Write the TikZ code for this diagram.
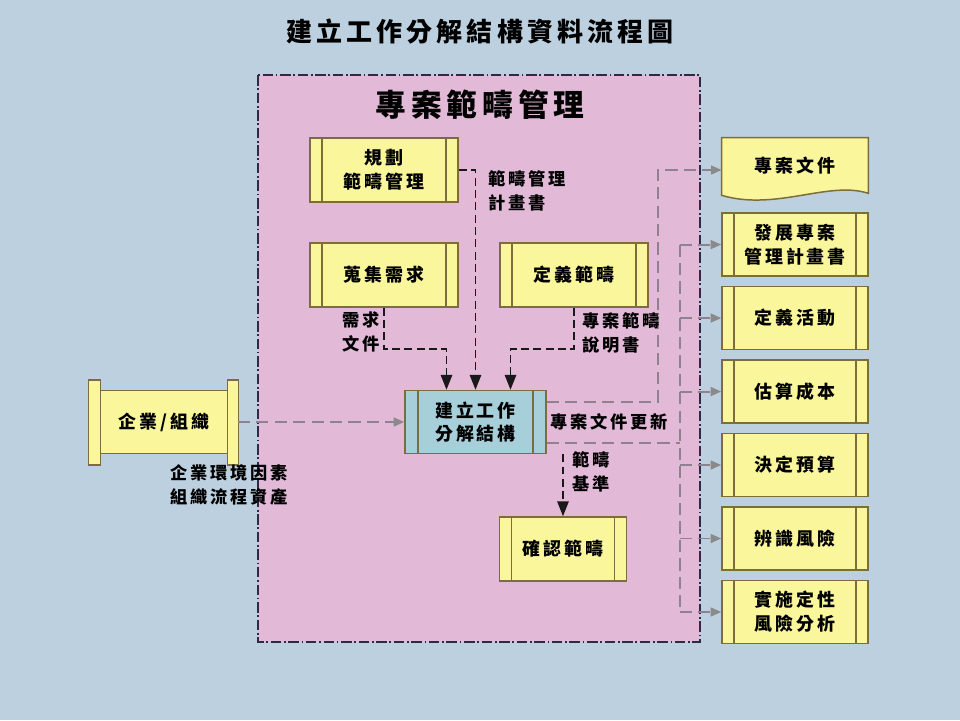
\documentclass[tikz,border=0pt]{standalone}
\usepackage{fontspec}
\setmainfont{Noto Sans CJK TC}[LetterSpace=16]
\usepackage{tikz}
\usetikzlibrary{arrows.meta,positioning,calc,backgrounds}
\definecolor{PageBlue}{HTML}{BDD0DF}
\definecolor{AreaPink}{HTML}{E2BAD8}
\definecolor{AreaEdge}{HTML}{2E2A45}
\definecolor{BoxYellow}{HTML}{FAF69C}
\definecolor{BoxEdge}{HTML}{7D6D3C}
\definecolor{WbsBlue}{HTML}{A6CFDA}
\definecolor{FlowGray}{HTML}{8E8290}
\definecolor{TipGray}{HTML}{8A8A8A}
\tikzset{
  % base box
  FB/.style={rectangle,draw=BoxEdge,fill=BoxYellow,line width=0.85pt,
             minimum width=2.96cm,minimum height=1.28cm,
             text centered,align=center,
             font=\fontsize{10.2}{13.5}\selectfont\bfseries},
  % box with inner side rules
  SB/.style={FB,path picture={
      \draw[BoxEdge,line width=0.7pt]
        ([xshift=#1]path picture bounding box.north west) -- ([xshift=#1]path picture bounding box.south west)
        ([xshift=-#1]path picture bounding box.north east) -- ([xshift=-#1]path picture bounding box.south east);}},
  SB/.default=0.24cm,
  RW/.style={minimum width=2.92cm,minimum height=1.26cm},
  WB/.style={SB=0.26cm,fill=WbsBlue,minimum width=2.82cm,minimum height=1.26cm},
  DOC/.style={rectangle,minimum width=2.92cm,minimum height=1.1cm,
              font=\fontsize{10.2}{13.5}\selectfont\bfseries},
  BAR/.style={draw=BoxEdge,fill=BoxYellow,line width=0.85pt},
  % arrows
  KA/.style={draw=black!90,line width=0.9pt,dash pattern=on 4.5pt off 2.5pt,
             -{Triangle[length=8.5pt,width=6.5pt]}},
  GL/.style={draw=FlowGray,line width=1.1pt,dash pattern=on 7pt off 3.5pt},
  GA/.style={GL,-{Triangle[length=6pt,width=5pt,color=TipGray]}},
  % labels
  LB/.style={font=\fontsize{9.8}{14}\selectfont\bfseries,align=left}
}
\begin{document}
\begin{tikzpicture}[x=0.02cm,y=-0.02cm]
  \useasboundingbox (0,0) rectangle (960,720);
  \begin{scope}[on background layer]
    \fill[PageBlue] (0,0) rectangle (960,720);
    \filldraw[fill=AreaPink,draw=AreaEdge,line width=0.8pt,
      dash pattern=on 6pt off 1.5pt on 1pt off 1.5pt] (258,75) rectangle (700,642);
  \end{scope}

  \node[font=\fontsize{14.8}{18}\selectfont\bfseries] (title) at (480,32) {建立工作分解結構資料流程圖};
  \node[font=\fontsize{17.5}{20}\selectfont\bfseries] (areatitle) at (480,105) {專案範疇管理};

  % scope processes
  \node[SB] (planscope) at (384,170) {規劃\\範疇管理};
  \node[SB] (collect) at (384,275) {蒐集需求};
  \node[SB] (define) at (574,275) {定義範疇};
  \node[WB] (wbs) at (475.5,422) {建立工作\\分解結構};
  \node[SB,minimum width=2.54cm] (verify) at (563,549) {確認範疇};

  % enterprise scroll
  \node[FB,minimum width=2.56cm,minimum height=1.26cm] (org) at (164,422) {企業/組織};
  \draw[BAR] ($(org.north west)+(-11,-10)$) rectangle ($(org.south west)+(1,11)$);
  \draw[BAR] ($(org.north east)+(-1,-10)$) rectangle ($(org.south east)+(10,11)$);

  % outputs
  \node[DOC] (docs) at (795,165.5) {專案文件};
  \begin{scope}[on background layer]
    \draw[BAR] (docs.north west) -- (docs.north east) -- (docs.south east)
      .. controls +(-39,-13) and +(54,16) .. ([yshift=-0.04cm]docs.south west) -- cycle;
  \end{scope}
  \node[SB,RW,below=0.38cm of docs] (devplan) {發展專案\\管理計畫書};
  \node[SB,RW,below=0.18cm of devplan] (defact) {定義活動};
  \node[SB,RW,below=0.18cm of defact] (estcost) {估算成本};
  \node[SB,RW,below=0.18cm of estcost] (budget) {決定預算};
  \node[SB,RW,below=0.18cm of budget] (idrisk) {辨識風險};
  \node[SB,RW,below=0.18cm of idrisk] (qualrisk) {實施定性\\風險分析};

  % inputs to wbs
  \draw[KA] (planscope.east) -| (wbs.north);
  \draw[KA] (collect.south) -- ++(0,41) -| ([xshift=-0.58cm]wbs.north);
  \draw[KA] (define.south) -- ++(0,41) -| ([xshift=0.7cm]wbs.north);
  \draw[KA] (wbs.south -| verify.north) -- (verify.north);
  \draw[GA] ([xshift=0.18cm]org.east) -- (wbs.west);

  % outputs of wbs
  \draw[GA] ([yshift=0.4cm]wbs.east) -- ++(111,0) |- ([yshift=-0.09cm]docs.west);
  \draw[GL] ([yshift=-0.42cm]wbs.east) -- ++(133,0) coordinate (bus);
  \draw[GL] (bus |- devplan.west) -- (bus |- qualrisk.west);
  \foreach \b in {devplan,defact,estcost,budget,idrisk,qualrisk}
    \draw[GA] (bus |- \b.west) -- (\b.west);

  % labels
  \node[LB,anchor=west] (lblplan) at (482,191) {範疇管理\\計畫書};
  \node[LB] (lblreq) at (361,332) {需求\\文件};
  \node[LB,anchor=west] (lblscope) at (576,333) {專案範疇\\說明書};
  \node[LB] (lblupd) at (609,422) {專案文件更新};
  \node[LB,anchor=west] (lblbase) at (566,472) {範疇\\基準};
  \node[LB,align=center] (lblenv) at (229,485) {企業環境因素\\組織流程資產};
\end{tikzpicture}
\end{document}
